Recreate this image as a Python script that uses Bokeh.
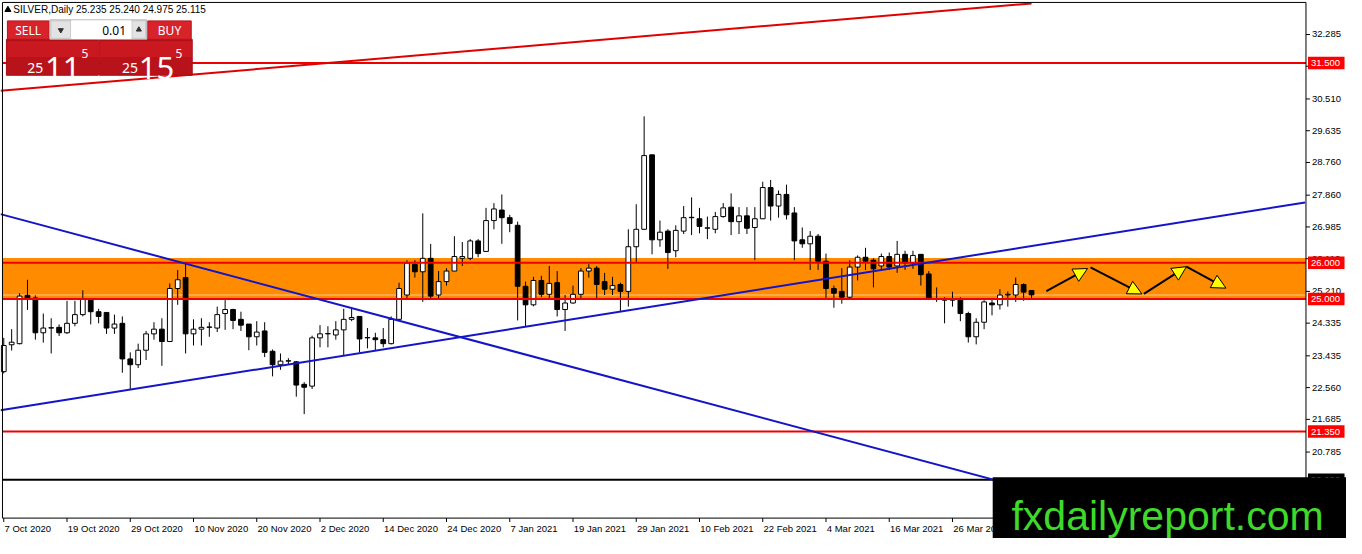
from bokeh.plotting import figure
from bokeh.models import Range1d, Arrow, NormalHead, ColumnDataSource
from bokeh.embed import file_html
from bokeh.resources import INLINE
from bokeh.core.properties import value

# ---------------- data (SILVER daily) ----------------
opens = [23.00, 23.74, 23.77, 25.10, 25.03, 24.07, 24.20, 24.22, 24.07, 24.33,
         24.57, 24.97, 24.65, 24.63, 24.20, 24.33, 23.35, 23.19, 23.59, 24.04,
         24.17, 23.83, 25.29, 25.59, 24.04, 24.17, 24.22, 24.20, 24.60, 24.71,
         24.44, 24.31, 23.96, 24.12, 23.56, 23.19, 23.29, 23.27, 22.65, 22.60,
         23.93, 24.04, 24.01, 24.15, 24.44, 24.52, 23.93, 23.93, 23.88, 23.77,
         24.44, 25.11, 25.95, 25.75, 26.12, 25.11, 25.48, 25.77, 26.12, 26.12,
         26.60, 26.31, 27.16, 27.45, 27.24, 27.03, 25.35, 24.84, 25.51, 25.13,
         25.45, 24.71, 24.89, 25.13, 25.77, 25.85, 25.48, 25.27, 25.40, 25.21,
         26.44, 26.92, 28.97, 26.63, 26.87, 26.33, 26.87, 27.24, 27.21, 26.95,
         26.92, 27.27, 27.53, 27.13, 27.29, 26.97, 27.21, 28.07, 27.56, 27.88,
         27.37, 26.63, 26.52, 26.73, 26.04, 25.29, 25.21, 25.05, 25.88, 26.15,
         26.07, 25.91, 26.17, 25.91, 26.23, 25.99, 26.23, 25.69, 25.00, 24.97,
         24.97, 25.00, 24.60, 23.96, 24.36, 24.89, 24.84, 25.11, 25.11, 25.40,
         25.235]
highs = [23.93, 24.17, 25.16, 25.53, 25.10, 24.60, 24.47, 24.30, 24.95, 24.95,
         25.24, 25.00, 24.73, 24.63, 24.57, 24.52, 23.53, 23.77, 24.12, 24.36,
         24.47, 25.43, 25.80, 26.00, 24.44, 24.47, 24.36, 24.79, 24.97, 24.73,
         24.65, 24.31, 24.39, 24.36, 23.61, 23.50, 23.37, 23.29, 22.71, 23.99,
         24.28, 24.25, 24.39, 24.73, 24.73, 24.52, 24.20, 24.07, 24.20, 24.52,
         25.45, 26.07, 26.07, 27.36, 26.52, 25.77, 25.85, 26.73, 26.57, 26.65,
         26.65, 27.51, 27.64, 27.88, 27.32, 27.13, 25.48, 25.61, 25.64, 25.91,
         25.77, 25.11, 25.37, 25.85, 25.96, 25.91, 25.72, 25.61, 25.45, 26.92,
         27.61, 30.03, 28.97, 27.16, 26.92, 27.03, 27.56, 27.80, 27.51, 27.27,
         27.40, 27.64, 27.91, 27.53, 27.53, 27.53, 28.23, 28.28, 27.99, 28.15,
         27.53, 26.97, 26.87, 26.79, 26.25, 25.37, 25.85, 26.07, 26.20, 26.41,
         26.12, 26.25, 26.28, 26.60, 26.33, 26.33, 26.23, 25.77, 25.32, 25.05,
         25.20, 25.05, 24.65, 24.47, 24.97, 25.00, 25.27, 25.21, 25.59, 25.43,
         25.240]
lows = [22.95, 23.58, 23.75, 24.70, 23.88, 23.80, 23.50, 23.98, 24.04, 24.25,
        24.52, 24.30, 24.33, 24.04, 24.04, 22.97, 22.52, 23.10, 23.32, 23.88,
        23.16, 23.83, 24.84, 23.50, 23.72, 23.72, 23.96, 24.09, 24.15, 24.17,
        24.12, 23.59, 23.72, 23.40, 22.87, 23.05, 23.19, 22.31, 21.83, 22.52,
        23.67, 23.67, 23.88, 23.45, 24.39, 23.53, 23.64, 23.59, 23.67, 23.75,
        24.40, 25.00, 25.59, 24.92, 25.00, 25.00, 25.37, 25.77, 25.91, 26.07,
        26.15, 26.30, 26.92, 26.52, 26.84, 24.41, 24.25, 24.80, 25.05, 25.00,
        24.52, 24.12, 24.87, 25.00, 25.59, 24.97, 25.11, 25.11, 24.65, 24.79,
        26.01, 26.90, 26.23, 26.44, 25.83, 26.15, 26.79, 26.76, 26.81, 26.65,
        26.81, 27.24, 26.76, 26.79, 26.79, 26.07, 27.20, 27.16, 27.24, 27.19,
        26.07, 26.41, 25.80, 25.80, 25.00, 24.76, 24.87, 25.03, 25.51, 25.80,
        25.32, 25.80, 25.80, 25.72, 25.80, 25.83, 25.37, 24.97, 24.92, 24.33,
        24.79, 24.39, 23.80, 23.75, 24.17, 24.55, 24.71, 24.79, 24.92, 24.95,
        24.975]
closes = [23.72, 23.81, 25.08, 25.03, 24.07, 24.20, 24.21, 24.07, 24.33, 24.57,
          25.00, 24.65, 24.52, 24.20, 24.31, 23.35, 23.19, 23.59, 24.04, 24.17,
          23.83, 25.29, 25.53, 24.04, 24.17, 24.22, 24.23, 24.57, 24.71, 24.41,
          24.28, 23.96, 24.09, 23.53, 23.19, 23.29, 23.30, 22.63, 22.57, 23.93,
          24.04, 24.05, 24.15, 24.44, 24.49, 23.90, 23.94, 23.88, 23.77, 24.44,
          25.29, 25.99, 25.75, 26.12, 25.08, 25.48, 25.77, 26.17, 26.17, 26.60,
          26.25, 27.16, 27.48, 27.24, 27.08, 25.35, 24.84, 25.51, 25.13, 25.43,
          24.71, 24.89, 25.13, 25.77, 25.85, 25.40, 25.27, 25.37, 25.21, 26.44,
          26.92, 28.95, 26.63, 26.84, 26.28, 26.89, 27.24, 27.25, 27.00, 26.96,
          27.27, 27.51, 27.13, 27.29, 26.95, 27.21, 28.07, 27.56, 27.88, 27.32,
          26.60, 26.52, 26.73, 26.04, 25.29, 25.16, 25.05, 25.88, 26.15, 26.04,
          25.83, 26.17, 25.88, 26.23, 25.99, 26.20, 25.67, 25.00, 25.01, 24.98,
          24.98, 24.60, 23.96, 24.36, 24.92, 24.84, 25.11, 25.13, 25.40, 25.19,
          25.115]

date_ticks = [0, 8, 16, 24, 32, 40, 48, 56, 64, 72, 80, 88, 96, 104, 112, 120]
date_labels = ["7 Oct 2020", "19 Oct 2020", "29 Oct 2020", "10 Nov 2020", "20 Nov 2020",
               "2 Dec 2020", "14 Dec 2020", "24 Dec 2020", "7 Jan 2021", "19 Jan 2021",
               "29 Jan 2021", "10 Feb 2021", "22 Feb 2021", "4 Mar 2021", "16 Mar 2021",
               "26 Mar 2021"]
price_ticks = [32.285, 31.410, 30.510, 29.635, 28.760, 27.860, 26.985, 26.110,
               25.210, 24.335, 23.435, 22.560, 21.685, 20.785, 19.910]

level_prices = [31.500, 26.000, 25.000, 21.350]
level_texts = ["31.500", "26.000", "25.000", "21.350"]
black_level = 20.020
black_text = "20.020"
zone_bottom, zone_top = 25.00, 26.13
zone_edge = 25.11

# trend lines (bar index, price)
red_tl = dict(x0=[-0.41], y0=[30.734], x1=[130.0], y1=[33.141])
blue_tl = dict(x0=[-0.41, -0.41], y0=[27.337, 21.935], x1=[145.0, 164.6], y1=[18.87, 27.658])

# forecast arrows (bar index, price)
arr_x0 = [131.88, 137.46, 144.21, 149.59]
arr_y0 = [25.22, 25.87, 25.14, 25.89]
arr_x1 = [137.09, 143.96, 149.59, 154.59]
arr_y1 = [25.84, 25.14, 25.89, 25.30]

header_text = "SILVER,Daily  25.235 25.240 24.975 25.115"
watermark = "fxdailyreport.com"

# ---------------- pixel helpers (reference-picture pixels -> data) ----------------
def ix(px):
    return (px - 3.3) / 8.0

def py(pyv):
    return 32.285 - (pyv - 35.0) / 37.39

FONT = "Liberation Sans"
PF = "Noto Sans"

p = figure(width=1346, height=538, output_backend="svg", toolbar_location=None,
           x_range=Range1d(ix(0), ix(1362)), y_range=Range1d(py(554), py(0)),
           x_axis_location=None, y_axis_location=None, min_border=0)
p.background_fill_color = "white"
p.border_fill_color = "white"
p.outline_line_color = None
p.grid.visible = False

XL, XR, YB, YT = ix(2), ix(1321), py(533), py(2)

# zone
p.quad(left=XL, right=XR, bottom=zone_bottom, top=zone_top, fill_color="#ff8c00",
       line_color=None)
p.segment(x0=XL, x1=XR, y0=zone_edge, y1=zone_edge, line_color="#f7c98a", line_width=1)

# candles
idx = list(range(len(opens)))
src = ColumnDataSource(dict(
    x=idx, o=opens, h=highs, l=lows, c=closes,
    top=[max(o, c) for o, c in zip(opens, closes)],
    bottom=[min(o, c) for o, c in zip(opens, closes)],
    fill=["white" if c >= o else "black" for o, c in zip(opens, closes)],
))
p.segment(x0="x", y0="l", x1="x", y1="h", source=src, line_color="black", line_width=1)
p.vbar(x="x", width=0.6, top="top", bottom="bottom", source=src,
       fill_color="fill", line_color="black", line_width=1)

# horizontal levels
p.segment(x0=XL, x1=XR, y0=level_prices, y1=level_prices, line_color="#ee0000", line_width=2)
p.segment(x0=XL, x1=XR, y0=black_level, y1=black_level, line_color="black", line_width=2)

# trend lines
p.segment(x0="x0", y0="y0", x1="x1", y1="y1", source=ColumnDataSource(red_tl),
          line_color="#e00000", line_width=2)
p.segment(x0="x0", y0="y0", x1="x1", y1="y1", source=ColumnDataSource(blue_tl),
          line_color="#1414c8", line_width=2)

# arrows
asrc = ColumnDataSource(dict(x0=arr_x0, y0=arr_y0, x1=arr_x1, y1=arr_y1))
p.add_layout(Arrow(source=asrc, x_start="x0", y_start="y0", x_end="x1", y_end="y1",
                   line_color="black", line_width=2, level="glyph",
                   end=NormalHead(size=14, fill_color="#ffff00", line_color="black",
                                  line_width=1)))

# ---------------- axes (price-scale strip and time strip) ----------------
p.segment(x0=XL, x1=XL, y0=YB, y1=YT, line_color="black", line_width=1)
p.segment(x0=XR, x1=XR, y0=YB, y1=YT, line_color="black", line_width=1)
p.segment(x0=XL, x1=XR, y0=YB, y1=YB, line_color="black", line_width=1)
p.segment(x0=XL, x1=XR, y0=YT, y1=YT, line_color="black", line_width=1)
p.segment(x0=XR, x1=ix(1325), y0=price_ticks, y1=price_ticks, line_color="black", line_width=1)
p.text(x=ix(1327), y=price_ticks, text=[f"{v:.3f}" for v in price_ticks],
       text_font=value(FONT), text_font_size=value("9.5px"), text_color="black",
       text_align="left", text_baseline="middle")
p.segment(x0=date_ticks, x1=date_ticks, y0=YB, y1=py(537), line_color="black", line_width=1)
p.text(x=[t + 0.1 for t in date_ticks], y=py(544), text=date_labels,
       text_font=value(FONT), text_font_size=value("9.5px"), text_color="black",
       text_align="left", text_baseline="middle")

# price labels on the scale
half = 6.5 / 37.39
p.quad(left=ix(1323), right=ix(1360), bottom=[v - half for v in level_prices],
       top=[v + half for v in level_prices], fill_color="#ff0000", line_color=None)
p.text(x=ix(1326), y=level_prices, text=level_texts, text_font=value(FONT),
       text_font_size=value("9.5px"), text_color="white", text_align="left",
       text_baseline="middle")
p.quad(left=ix(1323), right=ix(1360), bottom=black_level - half, top=black_level + half,
       fill_color="black", line_color=None)
p.text(x=ix(1326), y=[black_level], text=[black_text], text_font=value(FONT),
       text_font_size=value("9.5px"), text_color="white", text_align="left",
       text_baseline="middle")

# ---------------- trade panel (top-left) ----------------
def box(l, t, r, b, color, line=None):
    p.quad(left=ix(l), right=ix(r), top=py(t), bottom=py(b), fill_color=color,
           line_color=line if line else color, line_width=1)

box(6, 40, 99, 77, "#a90f16")
box(100, 40, 194, 77, "#a90f16")
box(7, 21, 49, 40, "#d9232a", "#b8131a")
box(149, 21, 193, 40, "#d9232a", "#b8131a")
box(50, 20, 148, 40, "#f0f0f0", "#a8a8a8")
box(51, 21, 71, 39, "#e3e3e3", "#c8c8c8")
box(133, 21, 147, 39, "#e3e3e3", "#c8c8c8")
box(72, 21, 132, 39, "white")
box(7, 42, 99, 59, "#c9181f")
box(7, 59, 99, 76, "#b8131a")
box(101, 42, 193, 59, "#c9181f")
box(101, 59, 193, 76, "#b8131a")
p.scatter(x=[ix(61)], y=[py(30.5)], marker="inverted_triangle", size=5, color="#303030")
p.scatter(x=[ix(140)], y=[py(30)], marker="triangle", size=5, color="#303030")
p.scatter(x=[ix(7.5)], y=[py(9.5)], marker="triangle", size=6, color="black")

def lab(text, px, pyv, size, color="white", align="left", base="alphabetic", font=PF):
    p.text(x=[ix(px)], y=[py(pyv)], text=[text], text_font=value(font),
           text_font_size=value(size), text_color=color, text_align=align,
           text_baseline=base)

lab("SELL", 28, 31, "12px", align="center", base="middle")
lab("BUY", 171, 31, "12px", align="center", base="middle")
lab("0.01", 127, 30.5, "12px", color="black", align="right", base="middle")
lab("25", 27, 70, "14px")
lab("11", 45, 70, "31px")
lab("5", 82, 55, "12px")
lab("25", 123, 70, "14px")
lab("15", 140, 70, "31px")
lab("5", 177, 55, "12px")
lab(header_text, 13, 9.5, "10px", color="black", base="middle", font=FONT)

# ---------------- watermark ----------------
p.quad(left=ix(1004), right=ix(1362), bottom=py(554), top=py(491), fill_color="black",
       line_color=None)
p.text(x=[ix(1023)], y=[py(531)], text=[watermark], text_font=value(FONT),
       text_font_size=value("41px"), text_color="#3fd92a", text_align="left",
       text_baseline="alphabetic")

open("out.html", "w").write(file_html(p, INLINE))
